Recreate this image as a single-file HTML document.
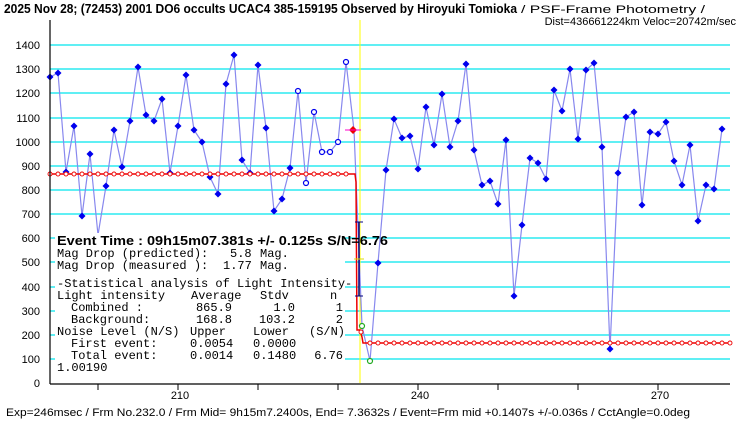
<!DOCTYPE html>
<html><head><meta charset="utf-8"><style>
body{margin:0;background:#fff;width:740px;height:425px;overflow:hidden}
svg text{font-family:"Liberation Sans",sans-serif}
.m text{font-family:"Liberation Mono",monospace;font-size:12px}
</style></head><body>
<svg width="740" height="425" viewBox="0 0 740 425" xmlns="http://www.w3.org/2000/svg">
<rect width="740" height="425" fill="#fff"/>
<text x="4" y="13" font-size="12.5" font-weight="bold" fill="#000" textLength="513" lengthAdjust="spacingAndGlyphs">2025 Nov 28; (72453) 2001 DO6 occults UCAC4 385-159195 Observed by Hiroyuki Tomioka</text>
<text x="521" y="13" font-size="11" fill="#000" textLength="184" lengthAdjust="spacingAndGlyphs">/ PSF-Frame Photometry /</text>
<text x="736" y="25" font-size="11" fill="#000" text-anchor="end">Dist=436661224km Veloc=20742m/sec</text>
<g stroke="#00e5ee" stroke-width="1.3">
<line x1="50" x2="730" y1="359" y2="359"/><line x1="50" x2="730" y1="335" y2="335"/>
<line x1="50" x2="730" y1="311" y2="311"/><line x1="50" x2="730" y1="287" y2="287"/>
<line x1="50" x2="730" y1="262" y2="262"/><line x1="50" x2="730" y1="238" y2="238"/>
<line x1="50" x2="730" y1="214" y2="214"/><line x1="50" x2="730" y1="190" y2="190"/>
<line x1="50" x2="730" y1="166" y2="166"/><line x1="50" x2="730" y1="142" y2="142"/>
<line x1="50" x2="730" y1="118" y2="118"/><line x1="50" x2="730" y1="93" y2="93"/>
<line x1="50" x2="730" y1="69" y2="69"/><line x1="50" x2="730" y1="45" y2="45"/>
</g>
<line x1="360" y1="20" x2="360" y2="383" stroke="#ffff00" stroke-width="1"/>
<polyline fill="none" stroke="#8888ee" stroke-width="1.2" points="50,77 58,73 66,172 74,126 82,216 90,154 98,235 106,186 114,130 122,167 130,121 138,67 146,115 154,121 162,99 170,173 178,126 186,75 194,130 202,142 210,177 218,194 226,84 234,55 242,160 250,173 258,65 266,128 274,211 282,199 290,168 298,91 306,183 314,112 322,152 330,152 338,142 346,62 354,130 362,326 370,361 378,263 386,170 394,119 402,138 410,136 418,169 426,107 434,145 442,94 450,147 458,121 466,64 474,150 482,185 490,181 498,204 506,140 514,296 522,225 530,158 538,163 546,179 554,90 562,111 570,69 578,139 586,70 594,63 602,147 610,349 618,173 626,117 634,112 642,205 650,132 658,134 666,122 674,161 682,185 690,145 698,221 706,185 714,189 722,129"/>
<rect x="55" y="233" width="290" height="138" fill="#fff"/>
<defs><path id="d" d="M0,-3.5L3.5,0L0,3.5L-3.5,0Z" fill="#0000ee"/>
<circle id="rc" r="2" fill="#fff" stroke="#ee0000" stroke-width="0.9"/></defs>
<use href="#d" x="50" y="77"/><use href="#d" x="58" y="73"/><use href="#d" x="66" y="172"/><use href="#d" x="74" y="126"/><use href="#d" x="82" y="216"/><use href="#d" x="90" y="154"/><use href="#d" x="106" y="186"/><use href="#d" x="114" y="130"/><use href="#d" x="122" y="167"/><use href="#d" x="130" y="121"/><use href="#d" x="138" y="67"/><use href="#d" x="146" y="115"/><use href="#d" x="154" y="121"/><use href="#d" x="162" y="99"/><use href="#d" x="170" y="173"/><use href="#d" x="178" y="126"/><use href="#d" x="186" y="75"/><use href="#d" x="194" y="130"/><use href="#d" x="202" y="142"/><use href="#d" x="210" y="177"/><use href="#d" x="218" y="194"/><use href="#d" x="226" y="84"/><use href="#d" x="234" y="55"/><use href="#d" x="242" y="160"/><use href="#d" x="250" y="173"/><use href="#d" x="258" y="65"/><use href="#d" x="266" y="128"/><use href="#d" x="274" y="211"/><use href="#d" x="282" y="199"/><use href="#d" x="290" y="168"/>
<use href="#d" x="378" y="263"/><use href="#d" x="386" y="170"/><use href="#d" x="394" y="119"/><use href="#d" x="402" y="138"/><use href="#d" x="410" y="136"/><use href="#d" x="418" y="169"/><use href="#d" x="426" y="107"/><use href="#d" x="434" y="145"/><use href="#d" x="442" y="94"/><use href="#d" x="450" y="147"/><use href="#d" x="458" y="121"/><use href="#d" x="466" y="64"/><use href="#d" x="474" y="150"/><use href="#d" x="482" y="185"/><use href="#d" x="490" y="181"/><use href="#d" x="498" y="204"/><use href="#d" x="506" y="140"/><use href="#d" x="514" y="296"/><use href="#d" x="522" y="225"/><use href="#d" x="530" y="158"/><use href="#d" x="538" y="163"/><use href="#d" x="546" y="179"/><use href="#d" x="554" y="90"/><use href="#d" x="562" y="111"/><use href="#d" x="570" y="69"/><use href="#d" x="578" y="139"/><use href="#d" x="586" y="70"/><use href="#d" x="594" y="63"/><use href="#d" x="602" y="147"/><use href="#d" x="610" y="349"/><use href="#d" x="618" y="173"/><use href="#d" x="626" y="117"/><use href="#d" x="634" y="112"/><use href="#d" x="642" y="205"/><use href="#d" x="650" y="132"/><use href="#d" x="658" y="134"/><use href="#d" x="666" y="122"/><use href="#d" x="674" y="161"/><use href="#d" x="682" y="185"/><use href="#d" x="690" y="145"/><use href="#d" x="698" y="221"/><use href="#d" x="706" y="185"/><use href="#d" x="714" y="189"/><use href="#d" x="722" y="129"/>
<g fill="#fff" stroke="#0000ee" stroke-width="1.2">
<circle cx="298" cy="91" r="2.5"/><circle cx="306" cy="183" r="2.5"/><circle cx="314" cy="112" r="2.5"/>
<circle cx="322" cy="152" r="2.5"/><circle cx="330" cy="152" r="2.5"/><circle cx="338" cy="142" r="2.5"/><circle cx="346" cy="62" r="2.5"/>
</g>
<polyline fill="none" stroke="#ee0000" stroke-width="1.5" points="50,174 355,174 356,182 357,330 360,330 362,337 363,343 730,343"/>
<g>
<use href="#rc" x="50" y="174"/><use href="#rc" x="58" y="174"/><use href="#rc" x="66" y="174"/><use href="#rc" x="74" y="174"/><use href="#rc" x="82" y="174"/><use href="#rc" x="90" y="174"/><use href="#rc" x="98" y="174"/><use href="#rc" x="106" y="174"/><use href="#rc" x="114" y="174"/><use href="#rc" x="122" y="174"/><use href="#rc" x="130" y="174"/><use href="#rc" x="138" y="174"/><use href="#rc" x="146" y="174"/><use href="#rc" x="154" y="174"/><use href="#rc" x="162" y="174"/><use href="#rc" x="170" y="174"/><use href="#rc" x="178" y="174"/><use href="#rc" x="186" y="174"/><use href="#rc" x="194" y="174"/><use href="#rc" x="202" y="174"/><use href="#rc" x="210" y="174"/><use href="#rc" x="218" y="174"/><use href="#rc" x="226" y="174"/><use href="#rc" x="234" y="174"/><use href="#rc" x="242" y="174"/><use href="#rc" x="250" y="174"/><use href="#rc" x="258" y="174"/><use href="#rc" x="266" y="174"/><use href="#rc" x="274" y="174"/><use href="#rc" x="282" y="174"/><use href="#rc" x="290" y="174"/><use href="#rc" x="298" y="174"/><use href="#rc" x="306" y="174"/><use href="#rc" x="314" y="174"/><use href="#rc" x="322" y="174"/><use href="#rc" x="330" y="174"/><use href="#rc" x="338" y="174"/><use href="#rc" x="346" y="174"/>
<use href="#rc" x="361" y="332"/>
<use href="#rc" x="370" y="343"/><use href="#rc" x="378" y="343"/><use href="#rc" x="386" y="343"/><use href="#rc" x="394" y="343"/><use href="#rc" x="402" y="343"/><use href="#rc" x="410" y="343"/><use href="#rc" x="418" y="343"/><use href="#rc" x="426" y="343"/><use href="#rc" x="434" y="343"/><use href="#rc" x="442" y="343"/><use href="#rc" x="450" y="343"/><use href="#rc" x="458" y="343"/><use href="#rc" x="466" y="343"/><use href="#rc" x="474" y="343"/><use href="#rc" x="482" y="343"/><use href="#rc" x="490" y="343"/><use href="#rc" x="498" y="343"/><use href="#rc" x="506" y="343"/><use href="#rc" x="514" y="343"/><use href="#rc" x="522" y="343"/><use href="#rc" x="530" y="343"/><use href="#rc" x="538" y="343"/><use href="#rc" x="546" y="343"/><use href="#rc" x="554" y="343"/><use href="#rc" x="562" y="343"/><use href="#rc" x="570" y="343"/><use href="#rc" x="578" y="343"/><use href="#rc" x="586" y="343"/><use href="#rc" x="594" y="343"/><use href="#rc" x="602" y="343"/><use href="#rc" x="610" y="343"/><use href="#rc" x="618" y="343"/><use href="#rc" x="626" y="343"/><use href="#rc" x="634" y="343"/><use href="#rc" x="642" y="343"/><use href="#rc" x="650" y="343"/><use href="#rc" x="658" y="343"/><use href="#rc" x="666" y="343"/><use href="#rc" x="674" y="343"/><use href="#rc" x="682" y="343"/><use href="#rc" x="690" y="343"/><use href="#rc" x="698" y="343"/><use href="#rc" x="706" y="343"/><use href="#rc" x="714" y="343"/><use href="#rc" x="722" y="343"/><use href="#rc" x="730" y="343"/>
</g>
<path d="M353,126 l4,4 l-4,4 l-4,-4z" fill="#ee0000"/>
<line x1="345" y1="130" x2="361" y2="130" stroke="#ff00cc"/>
<line x1="359" y1="222" x2="359" y2="296" stroke="#000080" stroke-width="1.5"/>
<line x1="355" y1="222" x2="363" y2="222" stroke="#000080"/><line x1="355" y1="296" x2="363" y2="296" stroke="#000080"/>
<line x1="354" y1="259" x2="364" y2="259" stroke="#dddd00"/>
<circle cx="362" cy="326" r="2.5" fill="#fff" stroke="#22aa22" stroke-width="1.2"/>
<circle cx="370" cy="361" r="2.5" fill="#fff" stroke="#22aa22" stroke-width="1.2"/>
<line x1="50" y1="20" x2="50" y2="384" stroke="#000" stroke-width="1.2"/>
<line x1="50" y1="384" x2="730" y2="384" stroke="#000" stroke-width="1.2"/>
<g stroke="#000"><line x1="98" x2="98" y1="384" y2="390"/><line x1="178" x2="178" y1="384" y2="390"/><line x1="258" x2="258" y1="384" y2="390"/><line x1="338" x2="338" y1="384" y2="390"/><line x1="418" x2="418" y1="384" y2="390"/><line x1="498" x2="498" y1="384" y2="390"/><line x1="578" x2="578" y1="384" y2="390"/><line x1="658" x2="658" y1="384" y2="390"/></g>
<g font-size="11" text-anchor="end" fill="#000">
<text x="40" y="387">0</text><text x="40" y="363">100</text><text x="40" y="339">200</text><text x="40" y="315">300</text><text x="40" y="291">400</text><text x="40" y="266">500</text><text x="40" y="242">600</text><text x="40" y="218">700</text><text x="40" y="194">800</text><text x="40" y="170">900</text><text x="40" y="146">1000</text><text x="40" y="122">1100</text><text x="40" y="97">1200</text><text x="40" y="73">1300</text><text x="40" y="49">1400</text>
</g>
<g font-size="11" text-anchor="middle"><text x="180" y="399">210</text><text x="420" y="399">240</text><text x="660" y="399">270</text></g>
<text x="57" y="245" font-size="12.5" font-weight="bold" textLength="331" lengthAdjust="spacingAndGlyphs">Event Time : 09h15m07.381s  +/- 0.125s  S/N=6.76</text>
<g class="m" fill="#000">
<text x="57" y="257">Mag Drop (predicted):</text><text x="230" y="257">5.8</text><text x="260" y="257">Mag.</text>
<text x="57" y="269">Mag Drop (measured ):</text><text x="223" y="269">1.77</text><text x="260" y="269">Mag.</text>
<text x="57" y="287">-Statistical analysis of Light Intensity-</text>
<text x="57" y="299">Light intensity</text><text x="191" y="299">Average</text><text x="260" y="299">Stdv</text><text x="330" y="299">n</text>
<text x="71" y="311">Combined  :</text><text x="232" y="311" text-anchor="end">865.9</text><text x="295" y="311" text-anchor="end">1.0</text><text x="343" y="311" text-anchor="end">1</text>
<text x="71" y="323">Background:</text><text x="232" y="323" text-anchor="end">168.8</text><text x="295" y="323" text-anchor="end">103.2</text><text x="343" y="323" text-anchor="end">2</text>
<text x="57" y="335">Noise Level (N/S)</text><text x="190" y="335">Upper</text><text x="253" y="335">Lower</text><text x="309" y="335">(S/N)</text>
<text x="71" y="347">First event:</text><text x="190" y="347">0.0054</text><text x="253" y="347">0.0000</text>
<text x="71" y="359">Total event:</text><text x="190" y="359">0.0014</text><text x="253" y="359">0.1480</text><text x="343" y="359" text-anchor="end">6.76</text>
<text x="57" y="371">1.00190</text>
</g>
<text x="6" y="416" font-size="11.3" fill="#000" textLength="684" lengthAdjust="spacingAndGlyphs">Exp=246msec / Frm No.232.0 / Frm Mid= 9h15m7.2400s,  End= 7.3632s / Event=Frm mid +0.1407s +/-0.036s / CctAngle=0.0deg</text>
</svg>
</body></html>
